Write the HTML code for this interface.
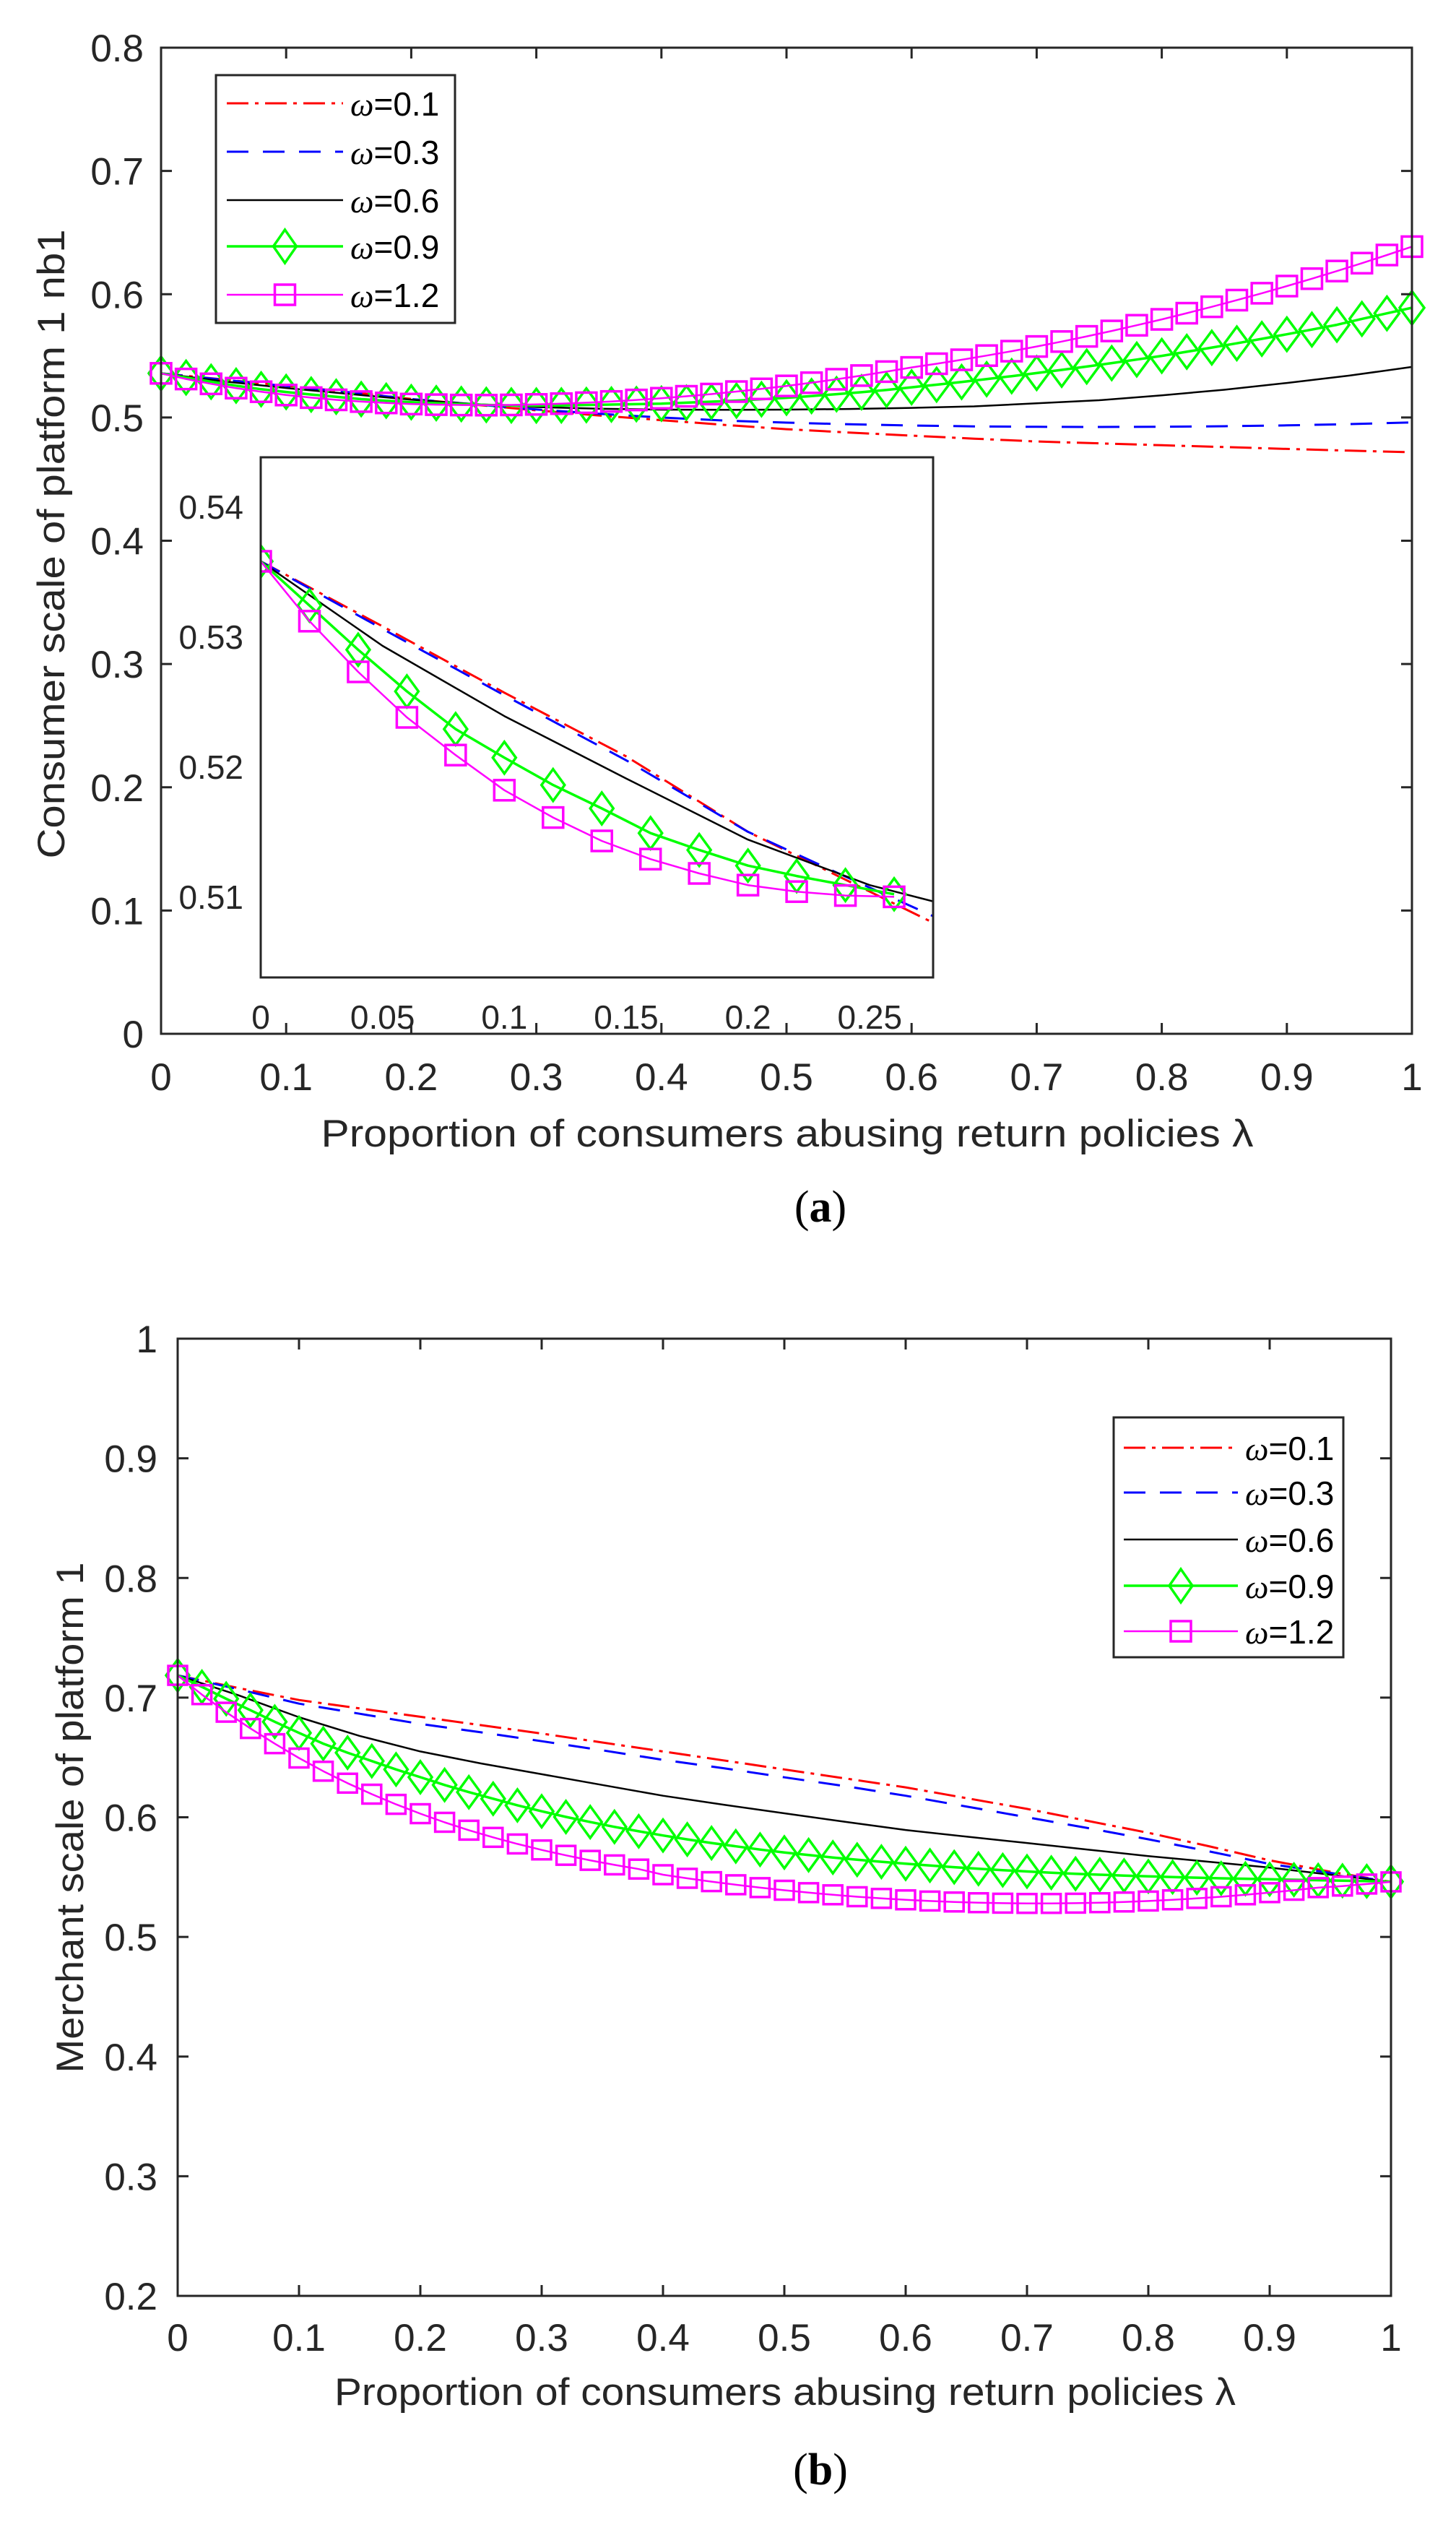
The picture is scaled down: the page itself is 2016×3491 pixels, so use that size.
<!DOCTYPE html>
<html><head><meta charset="utf-8"><title>Consumer and merchant scale charts</title>
<style>html,body{margin:0;padding:0;background:#fff;}svg{display:block;}</style></head>
<body>
<svg id="fig" width="2016" height="3491" viewBox="0 0 2016 3491" xmlns="http://www.w3.org/2000/svg" font-family="'Liberation Sans', sans-serif">
<rect width="2016" height="3491" fill="#fff"/>
</svg>
<script>
// ---------- data ----------
const xFine = [0,0.02,0.04,0.06,0.08,0.1,0.12,0.14,0.16,0.18,0.2,0.22,0.24,0.26,0.28,0.3,0.32,0.34,0.36,0.38,0.4,0.42,0.44,0.46,0.48,0.5,0.52,0.54,0.56,0.58,0.6,0.62,0.64,0.66,0.68,0.7,0.72,0.74,0.76,0.78,0.8,0.82,0.84,0.86,0.88,0.9,0.92,0.94,0.96,0.98,1];
const xCoarse = [0,0.05,0.1,0.15,0.2,0.25,0.3,0.35,0.4,0.45,0.5,0.55,0.6,0.65,0.7,0.75,0.8,0.85,0.9,0.95,1];
const seriesLabels = ['ω=0.1','ω=0.3','ω=0.6','ω=0.9','ω=1.2'];

// panel (a): consumer scale
const aW01 = [0.5358,0.5308,0.5257,0.5208,0.515,0.5104,0.5058,0.5016,0.4978,0.494,0.4905,0.4878,0.4853,0.4828,0.4805,0.479,0.4775,0.476,0.4745,0.4731,0.4718];
const aW03 = [0.5358,0.5306,0.5255,0.5205,0.515,0.5107,0.5065,0.503,0.5,0.4975,0.4958,0.4945,0.4935,0.4928,0.4924,0.4923,0.4925,0.4929,0.4936,0.4946,0.496];
const aW06 = [0.5358,0.5293,0.5239,0.5191,0.5144,0.5109,0.5085,0.5071,0.5064,0.5062,0.5064,0.5069,0.5078,0.509,0.5115,0.514,0.518,0.5225,0.528,0.534,0.541];
const aW09 = [0.5358,0.5324,0.529,0.5258,0.5229,0.5207,0.5186,0.5168,0.5149,0.5136,0.5124,0.5116,0.5109,0.5102,0.5098,0.5097,0.5098,0.5101,0.5105,0.5108,0.5112,0.512,0.5128,0.5137,0.5148,0.516,0.5174,0.5189,0.5205,0.5224,0.5245,0.5266,0.5288,0.5311,0.5335,0.536,0.5386,0.5413,0.5441,0.547,0.55,0.5533,0.5567,0.5602,0.5638,0.5675,0.5713,0.5752,0.58,0.5845,0.589];
const aW12 = [0.5358,0.5312,0.5273,0.5238,0.5209,0.5182,0.5161,0.5143,0.5129,0.5118,0.5109,0.5104,0.5101,0.51,0.5102,0.5106,0.5112,0.512,0.513,0.5142,0.5156,0.5172,0.519,0.521,0.5232,0.5256,0.5282,0.531,0.534,0.5372,0.5406,0.5436,0.5468,0.5502,0.5538,0.5576,0.5616,0.5658,0.5702,0.5748,0.5796,0.5846,0.5898,0.5952,0.6008,0.6066,0.6126,0.6188,0.6252,0.6318,0.6386];
const aYTicks = ['0','0.1','0.2','0.3','0.4','0.5','0.6','0.7','0.8'];
const aXTicks = ['0','0.1','0.2','0.3','0.4','0.5','0.6','0.7','0.8','0.9','1'];
const insetYTicks = ['0.51','0.52','0.53','0.54'];
const insetXTicks = ['0','0.05','0.1','0.15','0.2','0.25'];

// panel (b): merchant scale
const bW01 = [0.7186,0.708,0.698,0.691,0.684,0.677,0.67,0.6625,0.655,0.6475,0.64,0.6325,0.625,0.616,0.607,0.597,0.587,0.5758,0.564,0.5545,0.546];
const bW03 = [0.7186,0.707,0.695,0.6865,0.678,0.671,0.6636,0.656,0.648,0.641,0.6334,0.626,0.618,0.609,0.6,0.591,0.5816,0.5715,0.561,0.5535,0.546];
const bW06 = [0.7186,0.702,0.6836,0.668,0.655,0.645,0.636,0.627,0.618,0.6105,0.6033,0.5962,0.5894,0.5838,0.5785,0.573,0.5676,0.5628,0.558,0.552,0.546];
const bW09 = [0.7186,0.709,0.699,0.6895,0.6798,0.6705,0.6615,0.654,0.647,0.64,0.6335,0.627,0.621,0.6155,0.61,0.605,0.6003,0.596,0.592,0.5883,0.5848,0.5815,0.5785,0.5757,0.573,0.5706,0.5684,0.5664,0.5645,0.5628,0.5612,0.5597,0.5583,0.557,0.5558,0.5547,0.5537,0.5528,0.552,0.5513,0.5506,0.55,0.5495,0.549,0.5486,0.5482,0.5478,0.5474,0.547,0.5466,0.5462];
const bW12 = [0.7186,0.7025,0.6878,0.6742,0.6615,0.6495,0.6385,0.6285,0.6193,0.6108,0.603,0.5958,0.5892,0.5832,0.5777,0.5727,0.5682,0.564,0.5602,0.5567,0.552,0.549,0.5462,0.5436,0.5412,0.539,0.537,0.5352,0.5336,0.5322,0.531,0.53,0.5292,0.5286,0.5282,0.528,0.528,0.5282,0.5286,0.5292,0.53,0.531,0.5322,0.5336,0.5352,0.537,0.539,0.5412,0.5425,0.5442,0.546];
const bYTicks = ['0.2','0.3','0.4','0.5','0.6','0.7','0.8','0.9','1'];
const bXTicks = ['0','0.1','0.2','0.3','0.4','0.5','0.6','0.7','0.8','0.9','1'];

// ---------- drawing ----------
const NS = 'http://www.w3.org/2000/svg';
const svg = document.getElementById('fig');
function mk(tag, attrs, parent) {
  const e = document.createElementNS(NS, tag);
  for (const k in attrs) e.setAttribute(k, attrs[k]);
  (parent || svg).appendChild(e);
  return e;
}
const styles = [
  {color:'#ff0000', dash:'30 9 5 9', width:3, marker:null},
  {color:'#0000ff', dash:'30 20', width:3, marker:null},
  {color:'#000000', dash:null, width:2.5, marker:null},
  {color:'#00ff00', dash:null, width:3.5, marker:'diamond'},
  {color:'#ff00ff', dash:null, width:2.5, marker:'square'}
];

function drawMarker(g, type, cx, cy, color, sz) {
  let m;
  if (type === 'diamond') {
    m = mk('polygon', {points:`${cx},${cy-sz.dh} ${cx+sz.dw},${cy} ${cx},${cy+sz.dh} ${cx-sz.dw},${cy}`, fill:'none', stroke:color, 'stroke-width':3.5}, g);
    
  } else {
    m = mk('rect', {x:cx-sz.sq, y:cy-sz.sq, width:2*sz.sq, height:2*sz.sq, fill:'none', stroke:color, 'stroke-width':3.5}, g);
    
  }
  
}

function drawSeries(g, xs, ys, sx, sy, st, sz, name) {
  const pts = xs.map((x,i) => sx(x).toFixed(1) + ',' + sy(ys[i]).toFixed(1)).join(' ');
  const pl = mk('polyline', {points:pts, fill:'none', stroke:st.color, 'stroke-width':st.width, 'stroke-linejoin':'round'}, g);
  if (st.dash) pl.setAttribute('stroke-dasharray', st.dash);
  
  
  if (st.marker) xs.forEach((x,i) => drawMarker(g, st.marker, sx(x), sy(ys[i]), st.color, sz));
}

function drawAxes(P) {
  const g = mk('g', {});
  
  
  const sx = v => P.L + (v - P.x0) / (P.x1 - P.x0) * (P.R - P.L);
  const sy = v => P.B - (v - P.y0) / (P.y1 - P.y0) * (P.B - P.T);
  mk('rect', {x:P.L, y:P.T, width:P.R-P.L, height:P.B-P.T, fill:'#fff'}, g);
  return {g, sx, sy};
}

function frameAndTicks(P, sx, sy, xt, yt, fs, tick, xlabY, ylabX, mirror) {
  const g = mk('g', {});
  
  
  mk('rect', {x:P.L, y:P.T, width:P.R-P.L, height:P.B-P.T, fill:'none', stroke:'#262626', 'stroke-width':3}, g);
  xt.forEach(t => {
    const x = sx(parseFloat(t));
    mk('line', {x1:x, y1:P.B, x2:x, y2:P.B-tick, stroke:'#262626', 'stroke-width':3}, g);
    if (mirror) mk('line', {x1:x, y1:P.T, x2:x, y2:P.T+tick, stroke:'#262626', 'stroke-width':3}, g);
    const tx = mk('text', {x:x, y:xlabY, 'font-size':fs, fill:'#262626', 'text-anchor':'middle'}, g);
    tx.textContent = t;
    
    
  });
  yt.forEach(t => {
    const y = sy(parseFloat(t));
    mk('line', {x1:P.L, y1:y, x2:P.L+tick, y2:y, stroke:'#262626', 'stroke-width':3}, g);
    if (mirror) mk('line', {x1:P.R, y1:y, x2:P.R-tick, y2:y, stroke:'#262626', 'stroke-width':3}, g);
    const ty = mk('text', {x:ylabX, y:y + fs*0.36, 'font-size':fs, fill:'#262626', 'text-anchor':'end'}, g);
    ty.textContent = t;
    
    
  });
}

function legend(name, bx, by, bw, bh, lx0, lx1, tx, rows) {
  const g = mk('g', {});
  
  
  mk('rect', {x:bx, y:by, width:bw, height:bh, fill:'#fff', stroke:'#262626', 'stroke-width':3}, g);
  rows.forEach((ry, i) => {
    const st = styles[i];
    const e = mk('g', {}, g);
    
    
    const ln = mk('line', {x1:lx0, y1:ry, x2:lx1, y2:ry, stroke:st.color, 'stroke-width':st.width}, e);
    if (st.dash) ln.setAttribute('stroke-dasharray', st.dash);
    if (st.marker) drawMarker(e, st.marker, (lx0+lx1)/2, ry, st.color, {dw:16, dh:23, sq:14});
    const t = mk('text', {x:tx, y:ry+17, 'font-size':46, fill:'#000'}, e);
    const w = mk('tspan', {'font-style':'italic', 'font-family':"'Liberation Serif', serif"}, t);
    w.textContent = 'ω';
    const r = mk('tspan', {}, t);
    r.textContent = seriesLabels[i].slice(1);
  });
}

// ----- Panel A -----
const PA = {name:'panel-a', L:223, R:1955, T:66, B:1431, x0:0, x1:1, y0:0, y1:0.8};
const A = drawAxes(PA);
const aCoarse = [aW01, aW03, aW06];
aCoarse.forEach((s,i) => drawSeries(A.g, xCoarse, s, A.sx, A.sy, styles[i], {}, 'series-a-' + seriesLabels[i]));
drawSeries(A.g, xFine, aW09, A.sx, A.sy, styles[3], {dw:17, dh:23, sq:14}, 'series-a-w0.9');
drawSeries(A.g, xFine, aW12, A.sx, A.sy, styles[4], {dw:17, dh:23, sq:14}, 'series-a-w1.2');
frameAndTicks(PA, A.sx, A.sy, aXTicks, aYTicks, 53, 15, 1509, 199, true);

// inset
const PI = {name:'inset', L:361, R:1292, T:633, B:1353, x0:0, x1:0.276, y0:0.5038, y1:0.5438};
const I = drawAxes(PI);
const clip = mk('clipPath', {id:'insetClip'});
mk('rect', {x:PI.L, y:PI.T, width:PI.R-PI.L, height:PI.B-PI.T}, clip);
const ig = mk('g', {'clip-path':'url(#insetClip)'}, I.g);


aCoarse.forEach((s,i) => drawSeries(ig, xCoarse, s, I.sx, I.sy, styles[i], {}, 'inset-series-' + seriesLabels[i]));
const xin = xFine.filter(x => x <= PI.x1);
drawSeries(ig, xin, aW09.slice(0, xin.length), I.sx, I.sy, styles[3], {dw:16, dh:22, sq:14}, 'inset-series-w0.9');
drawSeries(ig, xin, aW12.slice(0, xin.length), I.sx, I.sy, styles[4], {dw:16, dh:22, sq:14}, 'inset-series-w1.2');
frameAndTicks(PI, I.sx, I.sy, insetXTicks, insetYTicks, 46, 0, 1424, 337, false);
legend('legend-a', 299, 104, 331, 343, 314, 475, 485, [143, 210, 277, 341, 408]);

// ----- Panel B -----
const PB = {name:'panel-b', L:246, R:1926, T:1853, B:3178, x0:0, x1:1, y0:0.2, y1:1};
const B = drawAxes(PB);
[bW01, bW03, bW06].forEach((s,i) => drawSeries(B.g, xCoarse, s, B.sx, B.sy, styles[i], {}, 'series-b-' + seriesLabels[i]));
drawSeries(B.g, xFine, bW09, B.sx, B.sy, styles[3], {dw:16, dh:22, sq:13}, 'series-b-w0.9');
drawSeries(B.g, xFine, bW12, B.sx, B.sy, styles[4], {dw:16, dh:22, sq:13}, 'series-b-w1.2');
frameAndTicks(PB, B.sx, B.sy, bXTicks, bYTicks, 53, 15, 3254, 218, true);
legend('legend-b', 1542, 1962, 318, 332, 1556, 1714, 1724, [2004, 2066, 2131, 2195, 2258]);

// ----- titles -----
function title(name, txt, x, y, fs, len, rot) {
  const t = mk('text', {x:x, y:y, 'font-size':fs, fill:'#262626', 'text-anchor':'middle', textLength:len, lengthAdjust:'spacingAndGlyphs'});
  if (rot) t.setAttribute('transform', `rotate(-90 ${x} ${y})`);
  t.textContent = txt;
  
  
  return t;
}
title('x-axis-title-a', 'Proportion of consumers abusing return policies λ', 1090, 1587, 53, 1291, false);
title('y-axis-title-a', 'Consumer scale of platform 1 nb1', 89, 753, 53, 871, true);
title('x-axis-title-b', 'Proportion of consumers abusing return policies λ', 1087, 3329, 53, 1248, false);
title('y-axis-title-b', 'Merchant scale of platform 1', 115, 2516, 53, 707, true);

function caption(name, letter, x, y) {
  const t = mk('text', {x:x, y:y, 'font-size':62, fill:'#000', 'text-anchor':'middle', 'font-family':"'Liberation Serif', serif"});
  const a = mk('tspan', {}, t); a.textContent = '(';
  const b = mk('tspan', {'font-weight':'bold'}, t); b.textContent = letter;
  const c = mk('tspan', {}, t); c.textContent = ')';
  
  
}
caption('caption-a', 'a', 1136, 1691);
caption('caption-b', 'b', 1136, 3439);
</script>
</body></html>
